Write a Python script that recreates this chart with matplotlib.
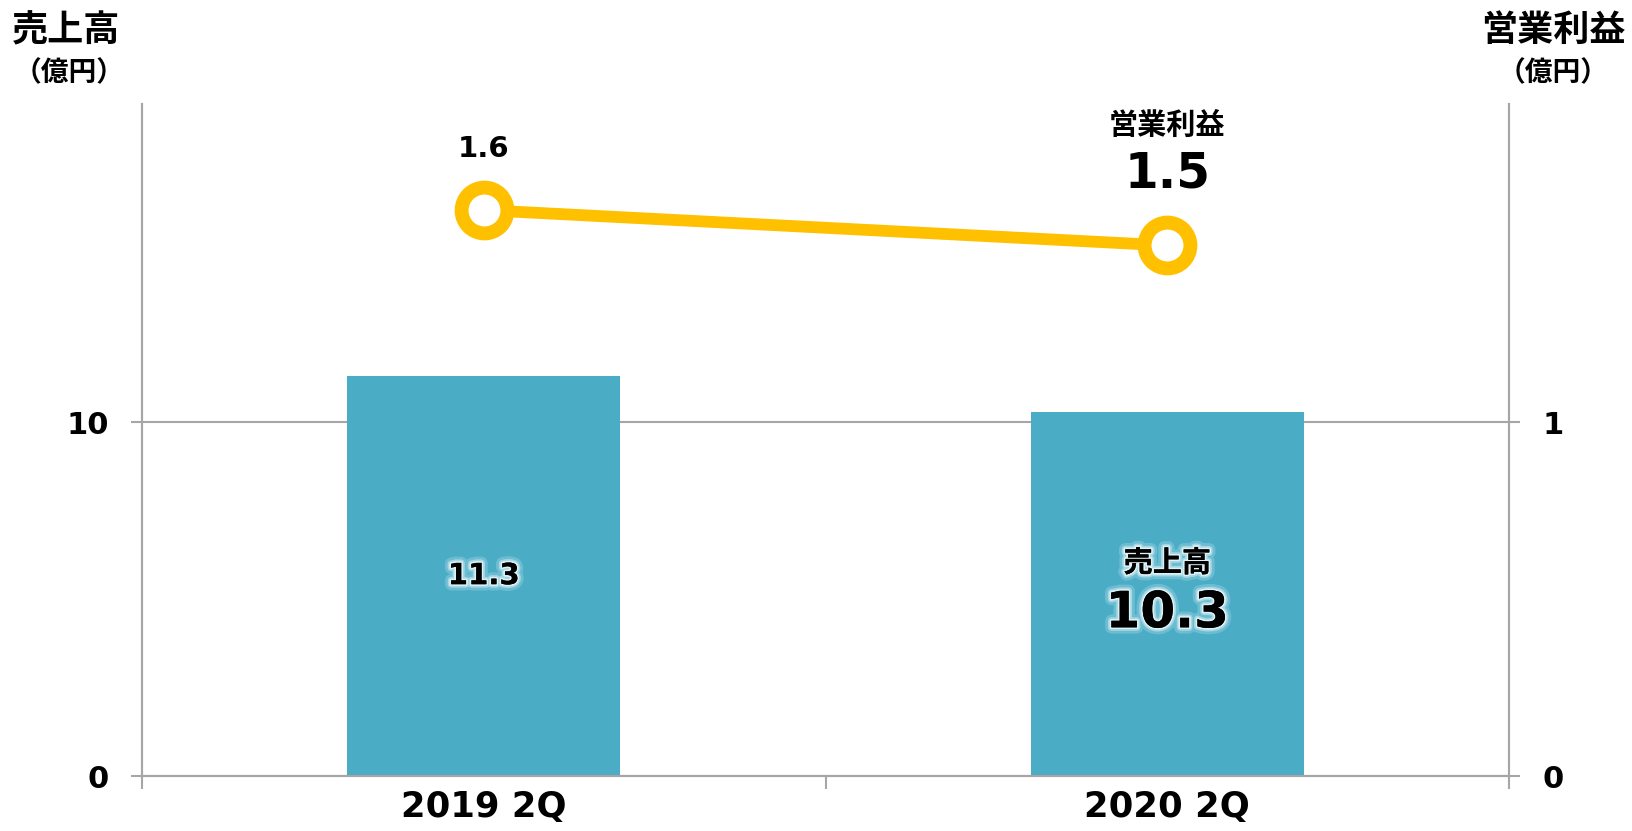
import matplotlib
matplotlib.use("Agg")
import matplotlib.pyplot as plt
import matplotlib.patheffects as pe

plt.rcParams['font.family'] = ['DejaVu Sans', 'Noto Sans CJK JP']
plt.rcParams['font.weight'] = 'bold'

# data
categories = ['2019 2Q', '2020 2Q']
sales = [11.3, 10.3]          # 売上高 (億円)
op_profit = [1.6, 1.5]        # 営業利益 (億円)
left_ticks = [0, 10]
right_ticks = [0, 1]

BAR_COLOR = '#4BACC6'
LINE_COLOR = '#FFC000'
AXIS_COLOR = '#A6A6A6'

W, H = 1633, 831
fig = plt.figure(figsize=(W / 100, H / 100), dpi=100)
ax = fig.add_axes([142 / W, 1 - 776 / H, (1509 - 142) / W, (776 - 104) / H])
ax2 = ax.twinx()

x = list(range(len(categories)))
ax.bar(x, sales, width=0.4, color=BAR_COLOR, zorder=2)
ax.set_xlim(-0.5, len(categories) - 0.5)
ax.set_ylim(0, 19)
ax2.set_ylim(0, 1.9)

ax.set_axisbelow(True)
ax.set_yticks(left_ticks)
ax.yaxis.grid(True, color=AXIS_COLOR, linewidth=1.5)
ax2.set_yticks(right_ticks)

ax.set_xticks(x)
ax.set_xticklabels(categories, fontsize=25.5, fontweight='bold')
ax.set_xticks([-0.5, 0.5, 1.5], minor=True)
ax.tick_params(axis='x', which='major', length=0, pad=10)
ax.tick_params(axis='x', which='minor', length=9, width=1.5, color=AXIS_COLOR)
ax.tick_params(axis='y', length=8, width=1.5, color=AXIS_COLOR, labelsize=22, pad=16)
ax2.tick_params(axis='y', length=8, width=1.5, color=AXIS_COLOR, labelsize=22, pad=16)
for lab in ax.get_yticklabels() + ax2.get_yticklabels():
    lab.set_fontweight('bold')

for a in (ax, ax2):
    a.spines['top'].set_visible(False)
    for s in ('left', 'right', 'bottom'):
        a.spines[s].set_color(AXIS_COLOR)
        a.spines[s].set_linewidth(1.5)

ax2.plot(x, op_profit, color=LINE_COLOR, linewidth=8.5, marker='o',
         markersize=33, markerfacecolor='white', markeredgecolor=LINE_COLOR,
         markeredgewidth=10, zorder=3)

# bar labels with soft glow
glow = [pe.withStroke(linewidth=9, foreground='#D6F0F8', alpha=0.25),
        pe.withStroke(linewidth=5, foreground='#E8F7FC', alpha=0.45),
        pe.withStroke(linewidth=2.5, foreground='#F5FCFE', alpha=0.7),
        pe.Normal()]
ax.text(x[0], sales[0] / 2, f'{sales[0]:.1f}', ha='center', va='center',
        fontsize=21, fontweight='bold', path_effects=glow, zorder=4)
ax.text(x[1], 6.0, '売上高', ha='center', va='center',
        fontsize=21, fontweight='bold', path_effects=glow, zorder=4)
ax.text(x[1], 4.6, f'{sales[1]:.1f}', ha='center', va='center',
        fontsize=36, fontweight='bold', path_effects=glow, zorder=4)

# line labels
ax2.annotate(f'{op_profit[0]:.1f}', (x[0], op_profit[0]), xytext=(0, 44),
             textcoords='offset points', ha='center', va='center',
             fontsize=21, fontweight='bold')
ax2.annotate(f'{op_profit[1]:.1f}', (x[1], op_profit[1]), xytext=(0, 52),
             textcoords='offset points', ha='center', va='center',
             fontsize=35, fontweight='bold')
ax2.annotate('営業利益', (x[1], op_profit[1]), xytext=(0, 86),
             textcoords='offset points', ha='center', va='center',
             fontsize=21, fontweight='bold')

# axis titles
fig.text(66 / W, 1 - 31 / H, '売上高', ha='center', va='center', fontsize=26, fontweight='bold')
fig.text(69 / W, 1 - 73 / H, '（億円）', ha='center', va='center', fontsize=20, fontweight='bold')
fig.text(1553 / W, 1 - 31 / H, '営業利益', ha='center', va='center', fontsize=26, fontweight='bold')
fig.text(1553 / W, 1 - 73 / H, '（億円）', ha='center', va='center', fontsize=20, fontweight='bold')

fig.savefig('out.png', dpi=100)
